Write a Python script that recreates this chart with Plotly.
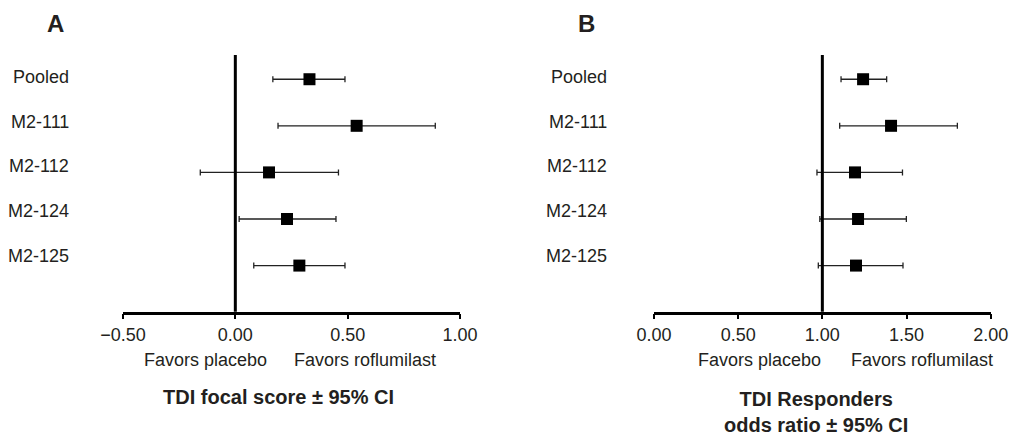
import plotly.graph_objects as go

W, H = 1013, 436

studies = ["Pooled", "M2-111", "M2-112", "M2-124", "M2-125"]

# Panel A: TDI focal score
tdi_est = [0.33, 0.54, 0.15, 0.23, 0.285]
tdi_lo = [0.167, 0.19, -0.156, 0.017, 0.082]
tdi_hi = [0.488, 0.89, 0.459, 0.448, 0.488]

# Panel B: TDI responders odds ratio
or_est = [1.242, 1.408, 1.194, 1.212, 1.200]
or_lo = [1.111, 1.103, 0.968, 0.985, 0.976]
or_hi = [1.382, 1.802, 1.476, 1.499, 1.479]

a_ticks = [-0.5, 0.0, 0.5, 1.0]
a_ticktext = ["\u22120.50", "0.00", "0.50", "1.00"]
b_ticks = [0.0, 0.5, 1.0, 1.5, 2.0]
b_ticktext = ["0.00", "0.50", "1.00", "1.50", "2.00"]

TXT = "#231f20"
FONT = "Liberation Sans, Arial, sans-serif"

def px(x):
    return x / W

def py(y):
    return 1 - y / H

fig = go.Figure()
ypos = list(range(len(studies)))

for est, lo, hi, xa, ya in [(tdi_est, tdi_lo, tdi_hi, "x", "y"),
                            (or_est, or_lo, or_hi, "x2", "y2")]:
    fig.add_trace(go.Scatter(
        x=est, y=ypos, mode="markers", xaxis=xa, yaxis=ya,
        marker=dict(symbol="square", size=12, color="black", line=dict(width=0)),
        error_x=dict(type="data", symmetric=False,
                     array=[h - e for h, e in zip(hi, est)],
                     arrayminus=[e - l for e, l in zip(est, lo)],
                     color="#222222", thickness=1.3, width=3),
        showlegend=False, hoverinfo="skip", cliponaxis=False))

y_dom = [py(311.7), py(55)]
axis_common = dict(showline=True, linewidth=2.5, linecolor="black",
                   ticks="outside", ticklen=5, tickwidth=2, tickcolor="black",
                   showgrid=False, zeroline=False, automargin=False,
                   tickfont=dict(size=18, color=TXT, family=FONT))
fig.update_layout(
    template="none",
    width=W, height=H, margin=dict(l=0, r=0, t=0, b=0, pad=0),
    plot_bgcolor="white", paper_bgcolor="white",
    font=dict(family=FONT, color=TXT),
    xaxis=dict(domain=[px(123), px(460)], range=[-0.5, 1.0], anchor="y",
               tickvals=a_ticks, ticktext=a_ticktext, **axis_common),
    xaxis2=dict(domain=[px(654), px(990.7)], range=[0.0, 2.0], anchor="y2",
                tickvals=b_ticks, ticktext=b_ticktext, **axis_common),
    yaxis=dict(domain=y_dom, range=[4.99, -0.52], visible=False, anchor="x",
               automargin=False),
    yaxis2=dict(domain=y_dom, range=[4.99, -0.52], visible=False, anchor="x2",
                automargin=False),
)

# reference lines
fig.add_shape(type="line", xref="x", yref="y domain", x0=0, x1=0, y0=0, y1=1,
              line=dict(color="black", width=3))
fig.add_shape(type="line", xref="x2", yref="y2 domain", x0=1, x1=1, y0=0, y1=1,
              line=dict(color="black", width=3))

# category labels
for i, s in enumerate(studies):
    yl = i * 0.96 - 0.05
    fig.add_annotation(text=s, xref="paper", yref="y", x=px(71), y=yl,
                       xanchor="right", yanchor="middle", showarrow=False,
                       font=dict(size=18, color=TXT, family=FONT))
    fig.add_annotation(text=s, xref="paper", yref="y2", x=px(609), y=yl,
                       xanchor="right", yanchor="middle", showarrow=False,
                       font=dict(size=18, color=TXT, family=FONT))

def note(text, x, y, size=18, bold=False):
    fig.add_annotation(text=f"<b>{text}</b>" if bold else text,
                       xref="paper", yref="paper", x=px(x), y=py(y),
                       xanchor="center", yanchor="middle", showarrow=False,
                       font=dict(size=size, color=TXT, family=FONT))

note("Favors placebo", 205, 360)
note("Favors roflumilast", 364.7, 360)
note("Favors placebo", 759.3, 360)
note("Favors roflumilast", 922.3, 360)
note("TDI focal score \u00b1 95% CI", 278.5, 397, size=20, bold=True)
note("TDI Responders<br>odds ratio \u00b1 95% CI", 816, 411.5, size=20, bold=True)
note("A", 55, 23.5, size=24, bold=True)
note("B", 586, 23.5, size=24, bold=True)

fig.write_html("out.html",
               config={"displayModeBar": False},
               post_script="document.body.style.margin='0';"
                           "document.body.style.overflow='hidden';")
